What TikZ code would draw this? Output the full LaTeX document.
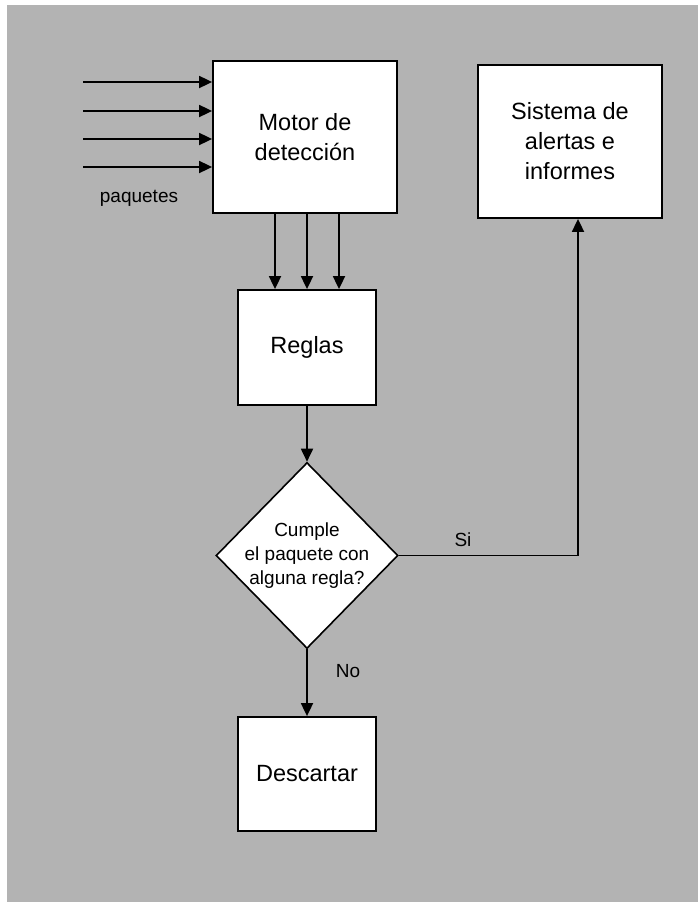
\documentclass[tikz,border=0pt]{standalone}
\usepackage{fontspec}
\setmainfont{Liberation Sans}
\usetikzlibrary{arrows.meta,shapes.geometric}
\definecolor{bggray}{RGB}{179,179,179}
\begin{document}
\begin{tikzpicture}[
    x=1pt, y=-1pt,
    box/.style={draw, fill=white, line width=1.8pt, align=center, inner sep=0pt, font=\fontsize{23.5}{30}\selectfont},
    decision/.style={diamond, draw, fill=white, line width=1.6pt, inner sep=0pt, minimum width=182pt, minimum height=186pt},
    lbl/.style={font=\fontsize{19}{24}\selectfont, align=center},
    arr/.style={-{Triangle[length=13pt,width=12pt]}, line width=1.8pt},
  ]
    \useasboundingbox (0,0) rectangle (698,902);
    \fill[bggray] (7,5) rectangle (698,902);

    % --- Boxes ---
    \node[box, minimum width=184pt, minimum height=152pt] (motor) at (305,137) {Motor de\\detección};
    \node[box, minimum width=184pt, minimum height=153pt] (alertas) at (570,141.5) {Sistema de\\alertas e\\informes};
    \node[box, minimum width=138pt, minimum height=115pt] (reglas) at (307,347.5) {Reglas};
    \node[decision] (cumple) at (307,555.5) {};
    \node[lbl] (cumpletxt) at (cumple) {Cumple\\el paquete con\\alguna regla?};
    \node[box, minimum width=138pt, minimum height=114pt] (descartar) at (307,774) {Descartar};

    % --- Incoming packets ---
    \foreach \y [count=\i] in {82,111,139,167} {
      \coordinate (in\i) at (83,\y);
      \draw[arr] (in\i) -- (in\i -| motor.west);
    }
    \node[lbl] (paquetes) at (139,198) {paquetes};

    % --- Motor -> Reglas ---
    \foreach \dx in {-32,0,32}
      \draw[arr] ([xshift=\dx pt]reglas.north |- motor.south) -- ([xshift=\dx pt]reglas.north);

    % --- Decision ---
    \draw[arr] (reglas.south) -- (cumple.north);
    \draw[arr] (cumple.south) -- (descartar.north);
    \coordinate (alertasin) at ([xshift=8pt]alertas.south);
    \draw[arr] (cumple.east) -- (cumple.east -| alertasin) -- (alertasin);

    % Labels
    \node[lbl] (si) at (463,540) {Si};
    \node[lbl] (no) at (348,671) {No};
  \end{tikzpicture}
\end{document}
